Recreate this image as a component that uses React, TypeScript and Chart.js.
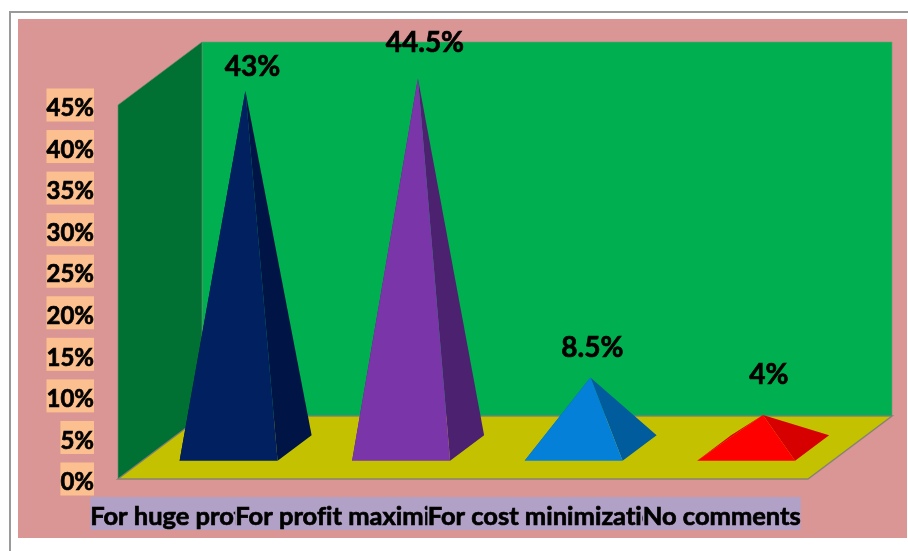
import React, { useEffect, useRef } from "react";
import { Chart, registerables } from "chart.js";

Chart.register(...registerables);

// Survey answers and their shares, in percent.
const categories = [
  "For huge profit gain ",
  "For profit maximization   ",
  "For cost minimization",
  "No comments",
];
const shares = [43, 44.5, 8.5, 4];
const shareLabels = ["43%", "44.5%", "8.5%", "4%"];

// Lit front face and shaded side face of each pyramid.
const frontColors = ["#002060", "#7A35A8", "#0580D8", "#FF0000"];
const sideColors = ["#001545", "#4C2270", "#005C9C", "#D60000"];

// Label offsets from each pyramid's apex.
const labelOffsetX = [7, 7, 2, 6];
const labelOffsetY = [-25, -36, -31, -41];

const FONT = "Lato, Carlito, Calibri, sans-serif";
const DEPTH_X = 84;
const DEPTH_Y = 63;
const BASE_FRONT = 0.29;
const BASE_BACK = 0.695;
const BASE_MID = 0.49;
const TEXT_DROP = 3.5;

type Pt = [number, number];

function fillPoly(ctx: CanvasRenderingContext2D, pts: Pt[], fill: string, stroke?: string, lw = 1) {
  ctx.beginPath();
  pts.forEach(([x, y], i) => (i ? ctx.lineTo(x, y) : ctx.moveTo(x, y)));
  ctx.closePath();
  ctx.fillStyle = fill;
  ctx.fill();
  if (stroke) {
    ctx.strokeStyle = stroke;
    ctx.lineWidth = lw;
    ctx.lineJoin = "miter";
    ctx.stroke();
  }
}

// Page frame and chart-area fill.
const framePlugin = {
  id: "frame",
  afterLayout(chart: any) {
    // Tick text sits a little below the centre of its backdrop.
    ["x", "y"].forEach((id) => {
      const scale = chart.scales[id];
      scale.getLabelItems(chart.chartArea).forEach((item: any) => {
        item.textOffset += TEXT_DROP;
      });
    });
  },
  beforeDraw(chart: any) {
    const { ctx, width, height } = chart;
    ctx.textRendering = "optimizeSpeed";
    ctx.save();
    ctx.fillStyle = "#FFFFFF";
    ctx.fillRect(0, 0, width, height);
    ctx.fillStyle = "#9A9A9A";
    ctx.fillRect(9, 11, width - 9, 2);
    ctx.fillRect(9, 11, 2, height - 11);
    ctx.fillStyle = "#D99694";
    ctx.fillRect(18, 19, width - 19, 519);
    ctx.restore();
  },
};

// Back wall, side wall and floor of the 3-D box, tied to the plot area.
const boxPlugin = {
  id: "box",
  beforeDatasetsDraw(chart: any) {
    const { ctx, chartArea } = chart;
    const { left, right, top, bottom } = chartArea;
    const edge = "rgba(120,120,120,0.8)";
    ctx.save();
    fillPoly(
      ctx,
      [[left + DEPTH_X, top - DEPTH_Y], [right + DEPTH_X, top - DEPTH_Y], [right + DEPTH_X, bottom - DEPTH_Y], [left + DEPTH_X, bottom - DEPTH_Y]],
      "#00B050",
      "rgba(120,150,120,0.6)"
    );
    fillPoly(
      ctx,
      [[left, top], [left + DEPTH_X, top - DEPTH_Y], [left + DEPTH_X, bottom - DEPTH_Y], [left, bottom]],
      "#007033",
      "rgba(100,140,110,0.6)"
    );
    fillPoly(
      ctx,
      [[left, bottom], [right, bottom], [right + DEPTH_X, bottom - DEPTH_Y], [left + DEPTH_X, bottom - DEPTH_Y]],
      "#C4C200",
      edge,
      1.5
    );
    ctx.restore();
  },
};

// Each bar element is rendered as a pyramid standing on the floor.
const pyramidPlugin = {
  id: "pyramids",
  beforeDatasetDraw(chart: any, args: any) {
    const { ctx } = chart;
    const meta = args.meta;
    ctx.save();
    meta.data.forEach((bar: any, i: number) => {
      const half = bar.width / 2;
      const baseY = bar.base;
      const rise = baseY - bar.y;
      const at = (x: number, depth: number): Pt => [x + DEPTH_X * depth, baseY - DEPTH_Y * depth];
      const fl = at(bar.x - half, BASE_FRONT);
      const fr = at(bar.x + half, BASE_FRONT);
      const bl = at(bar.x - half, BASE_BACK);
      const br = at(bar.x + half, BASE_BACK);
      const mid = at(bar.x, BASE_MID);
      const apex: Pt = [mid[0], mid[1] - rise];
      fillPoly(ctx, [bl, apex, fl], sideColors[i]);
      fillPoly(ctx, [fr, br, apex], sideColors[i]);
      fillPoly(ctx, [fl, fr, apex], frontColors[i]);
    });
    ctx.restore();
    return false;
  },
  afterDatasetsDraw(chart: any) {
    const { ctx } = chart;
    const bars = chart.getDatasetMeta(0).data;
    ctx.save();
    ctx.font = `bold 28px ${FONT}`;
    ctx.fillStyle = "#000000";
    ctx.strokeStyle = "#000000";
    ctx.lineWidth = 0.7;
    ctx.textAlign = "center";
    ctx.textBaseline = "middle";
    bars.forEach((bar: any, i: number) => {
      const x = bar.x + DEPTH_X * BASE_MID + labelOffsetX[i];
      const y = bar.y - DEPTH_Y * BASE_MID + labelOffsetY[i] + 1;
      ctx.fillText(shareLabels[i], x, y);
      ctx.strokeText(shareLabels[i], x, y);
    });
    ctx.restore();
  },
};

export default function App() {
  const ref = useRef<HTMLCanvasElement | null>(null);

  useEffect(() => {
    const canvas = ref.current;
    if (!canvas) return;
    const chart = new Chart(canvas, {
      type: "bar",
      data: {
        labels: categories,
        datasets: [
          {
            label: "Share",
            data: shares,
            backgroundColor: frontColors,
            categoryPercentage: 1,
            barPercentage: 0.568,
          },
        ],
      },
      options: {
        responsive: false,
        animation: false,
        layout: { padding: { left: 0, top: 105, right: 100, bottom: 0 } },
        plugins: { legend: { display: false }, tooltip: { enabled: false }, title: { display: false } },
        scales: {
          x: {
            afterFit: (s: any) => {
              s.height = 72;
            },
            grid: { display: false, drawTicks: false },
            border: { display: false },
            ticks: {
              autoSkip: false,
              maxRotation: 0,
              minRotation: 0,
              padding: 18,
              color: "#000000",
              textStrokeColor: "#000000",
              textStrokeWidth: 0.7,
              font: { family: FONT, weight: "bold", size: 25.5, lineHeight: "33px" },
              showLabelBackdrop: true,
              backdropColor: "#B2A1C7",
              backdropPadding: 0,
            },
          },
          y: {
            min: 0,
            max: 45,
            afterFit: (s: any) => {
              s.width = 118;
            },
            grid: { display: false, drawTicks: false },
            border: { display: false },
            ticks: {
              stepSize: 5,
              autoSkip: false,
              padding: 24,
              color: "#000000",
              textStrokeColor: "#000000",
              textStrokeWidth: 0.7,
              font: { family: FONT, weight: "bold", size: 24, lineHeight: "33px" },
              callback: (v: any) => `${v}%`,
              showLabelBackdrop: true,
              backdropColor: "#FCC090",
              backdropPadding: 0,
            },
          },
        },
      },
      plugins: [framePlugin, boxPlugin, pyramidPlugin],
    } as any);
    return () => chart.destroy();
  }, []);

  return (
    <div style={{ position: "absolute", left: 0, top: 0, width: 908, height: 551, overflow: "hidden" }}>
      <canvas ref={ref} width={908} height={551} style={{ display: "block" }} />
    </div>
  );
}
